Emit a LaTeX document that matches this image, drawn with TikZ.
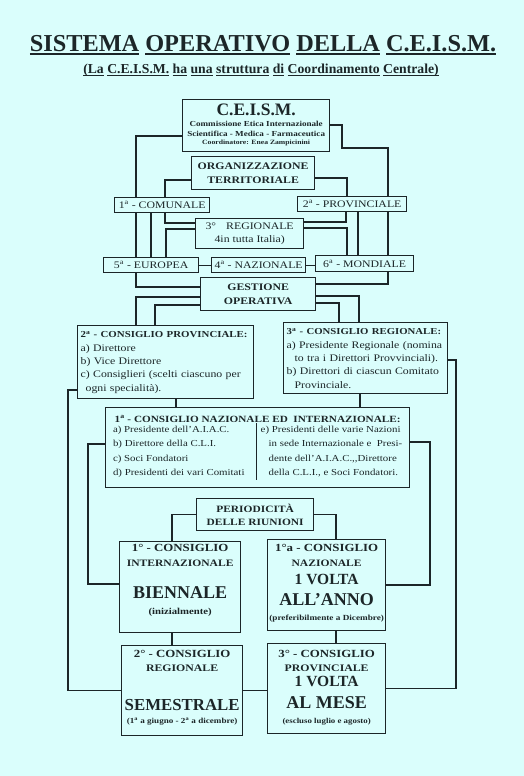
\documentclass[tikz,border=0pt]{standalone}
\usepackage{fontspec}
\setmainfont{Liberation Serif}
\newfontfamily\bxf[FakeStretch=1.18]{Liberation Serif}
\definecolor{bg}{RGB}{218,254,252}
\definecolor{ink}{RGB}{28,38,40}
\newcommand\fs[2]{\fontsize{#1}{#2}\selectfont}
\newcommand\sa{\textsuperscript{a}}
\newcommand\uwa[1]{\leavevmode\setbox0\hbox{#1}\rlap{\color{ink}\rule[-3.5pt]{\wd0}{1.6pt}}\box0\relax}
\newcommand\uwb[1]{\leavevmode\setbox0\hbox{#1}\rlap{\color{ink}\rule[-2.6pt]{\wd0}{1.1pt}}\box0\relax}
% strut line: height above baseline #1, depth #2
\newcommand\lnx[2]{\rule[-#2pt]{0pt}{\dimexpr#1pt+#2pt\relax}}
\newcommand\tight{\baselineskip=0pt\lineskip=0pt\lineskiplimit=0pt}
\begin{document}
\begin{tikzpicture}[x=1pt,y=-1pt,
  box/.style={draw=ink, line width=1.3pt, anchor=north west, inner sep=0pt, align=center, text=ink},
  lbox/.style={box, align=left, inner xsep=3pt},
  small/.style={font=\bxf\fs{10}{12}},
  conn/.style={draw=ink, line width=1.1pt},
]
\fill[bg] (0,0) rectangle (524,776);
\useasboundingbox (0,0) rectangle (524,776);

% titles
\node[text=ink, font=\fs{24.3}{28}\bfseries] (title) at (263,45) {\uwa{SISTEMA} \uwa{OPERATIVO} \uwa{DELLA} \uwa{C.E.I.S.M.}};
\node[text=ink, font=\fs{13.7}{16}\bfseries] (subtitle) at (261,70) {\uwb{(La} \uwb{C.E.I.S.M.} \uwb{ha} \uwb{una} \uwb{struttura} \uwb{di} \uwb{Coordinamento} \uwb{Centrale)}};

% boxes top
\node[box, minimum width=147pt, minimum height=52pt, font=\tight] (ceism) at (182,99)
 {\lnx{15.5}{2}{\fs{17.5}{0}\bfseries C.E.I.S.M.}\\
  \lnx{9.5}{1.5}{\bxf\fs{7.7}{0}\bfseries Commissione Etica Internazionale}\\
  \lnx{8}{1.5}{\bxf\fs{7.7}{0}\bfseries Scientifica - Medica - Farmaceutica}\\
  \lnx{6.5}{7.5}{\bxf\fs{6.5}{0}\bfseries Coordinatore: Enea Zampicinini}};
\node[box, minimum width=123pt, minimum height=33pt, font=\bxf\fs{10}{14}\bfseries] (org) at (191,156)
 {ORGANIZZAZIONE\\TERRITORIALE};
\node[box, small, minimum width=95pt, minimum height=15pt] (comunale) at (114,197) {1\sa{} - COMUNALE};
\node[box, small, minimum width=109pt, minimum height=15pt] (provinciale) at (297,196) {2\sa{} - PROVINCIALE};
\node[box, minimum width=108pt, minimum height=30pt, font=\bxf\fs{10}{13}] (regionale) at (195,218)
 {3°\quad REGIONALE\\4in tutta Italia)};
\node[box, small, minimum width=95pt, minimum height=15pt] (europea) at (103,257) {5\sa{} - EUROPEA};
\node[box, small, minimum width=94pt, minimum height=15pt] (nazionale) at (211,257) {4\sa{} - NAZIONALE};
\node[box, small, minimum width=98pt, minimum height=16pt] (mondiale) at (315,255) {6\sa{} - MONDIALE};
\node[box, minimum width=115pt, minimum height=33pt, font=\bxf\fs{10}{14}\bfseries] (gestione) at (200,277)
 {GESTIONE\\OPERATIVA};

% consigli
\node[lbox, minimum width=176pt, minimum height=73pt, text width=170pt, font=\bxf\fs{10}{13.3}] (cprov) at (77,325)
 {{\fs{9.2}{13.3}\bfseries 2\sa{} - CONSIGLIO PROVINCIALE:}\\
  a) Direttore\\
  b) Vice Direttore\\
  c) Consiglieri (scelti ciascuno per\\
  \hspace*{5pt}ogni specialità).};
\node[lbox, minimum width=164pt, minimum height=71pt, text width=158pt, font=\bxf\fs{10}{13.3}] (creg) at (283,322)
 {{\fs{9.1}{13.3}\bfseries 3\sa{} - CONSIGLIO REGIONALE:}\\
  a) Presidente Regionale (nomina\\
  \hspace*{8pt}to tra i Direttori Provvinciali).\\
  b) Direttori di ciascun Comitato\\
  \hspace*{8pt}Provinciale.};
\node[box, minimum width=304pt, minimum height=80pt, font=\bxf] (cnaz) at (105,407)
 {{\fs{9.5}{13}\bfseries 1\sa{} - CONSIGLIO NAZIONALE ED\ \ INTERNAZIONALE:}\\[-1pt]
  \fs{9.2}{14.3}\begin{tabular}{@{}l@{\hspace{12pt}}|@{\hspace{4pt}}l@{}}
  a) Presidente dell’A.I.A.C. & e) Presidenti delle varie Nazioni\\
  b) Direttore della C.L.I. & \hspace*{8pt}in sede Internazionale e\ \ Presi-\\
  c) Soci Fondatori & \hspace*{8pt}dente dell’A.I.A.C.,,Direttore\\
  d) Presidenti dei vari Comitati & \hspace*{8pt}della C.L.I., e Soci Fondatori.
  \end{tabular}};

% periodicita
\node[box, minimum width=117pt, minimum height=32pt, font=\bxf\fs{9.7}{13}\bfseries] (period) at (196,498)
 {PERIODICITÀ\\DELLE RIUNIONI};
\node[box, minimum width=121pt, minimum height=91pt, font=\tight\bfseries] (bint) at (119,541)
 {\lnx{10}{3}{\bxf\fs{10.9}{0}1° - CONSIGLIO}\\
  \lnx{12}{3}{\bxf\fs{9.8}{0}INTERNAZIONALE}\\
  \lnx{29}{4}{\fs{18}{0}BIENNALE}\\
  \lnx{12}{18}{\bxf\fs{9.1}{0}(inizialmente)}};
\node[box, minimum width=118pt, minimum height=91pt, font=\tight\bfseries] (anaz) at (267,539)
 {\lnx{12}{3}{\bxf\fs{10.9}{0}1°a - CONSIGLIO}\\
  \lnx{12}{3}{\bxf\fs{9.8}{0}NAZIONALE}\\
  \lnx{15}{2}{\fs{15.5}{0}1 VOLTA}\\
  \lnx{19}{2}{\fs{18}{0}ALL’ANNO}\\
  \lnx{13}{10}{\bxf\fs{7.8}{0}(preferibilmente a Dicembre)}};
\node[box, minimum width=121pt, minimum height=90pt, font=\tight\bfseries] (sreg) at (121,645)
 {\lnx{12}{3}{\bxf\fs{10.9}{0}2° - CONSIGLIO}\\
  \lnx{11}{3}{\bxf\fs{10}{0}REGIONALE}\\
  \lnx{36}{3}{\fs{16.8}{0}SEMESTRALE}\\
  \lnx{10}{12}{\bxf\fs{7.7}{0}(1\sa{} a giugno - 2\sa{} a dicembre)}};
\node[box, minimum width=118pt, minimum height=90pt, font=\tight\bfseries] (tprov) at (267,643)
 {\lnx{14}{3}{\bxf\fs{10.9}{0}3° - CONSIGLIO}\\
  \lnx{11}{3}{\bxf\fs{10}{0}PROVINCIALE}\\
  \lnx{12}{2}{\fs{15.5}{0}1 VOLTA}\\
  \lnx{20}{2}{\fs{18}{0}AL MESE}\\
  \lnx{13}{10}{\bxf\fs{7.5}{0}(escluso luglio e agosto)}};

% connectors upper left
\draw[conn] (ceism.west |- 0,136) -| (136,0 |- comunale.north);
\draw[conn] (comunale.south -| 136,0) -- (europea.north -| 136,0);
\draw[conn] (europea.south -| 136,0) |- (gestione.west |- 0,287);
\draw[conn] (comunale.south -| 151,0) -- (europea.north -| 151,0);
\draw[conn] (org.west |- 0,180) -| (165,0 |- comunale.north);
\draw[conn] (comunale.south -| 165,0) |- (regionale.west |- 0,223);
\draw[conn] (regionale.west |- 0,229) -| (166,0 |- europea.north);
\draw[conn] (europea.east) -- (nazionale.west);
\draw[conn] (nazionale.east) -- (mondiale.west |- nazionale.east);
% connectors upper right
\draw[conn] (ceism.east |- 0,125) -| (342,148) -| (388,0 |- provinciale.north);
\draw[conn] (provinciale.south -| 388,0) -- (mondiale.north -| 388,0);
\draw[conn] (mondiale.south -| 388,0) |- (gestione.east |- 0,284);
\draw[conn] (org.east |- 0,178) -| (347,0 |- provinciale.north);
\draw[conn] (provinciale.south -| 346,0) |- (regionale.east |- 0,222);
\draw[conn] (regionale.east |- 0,228) -| (347,0 |- mondiale.north);
\draw[conn] (provinciale.south -| 358,0) -- (mondiale.north -| 358,0);
% gestione to consigli
\draw[conn] (gestione.west |- 0,297) -| (136,0 |- cprov.north);
\draw[conn] (gestione.west |- 0,305) -| (155,0 |- cprov.north);
\draw[conn] (gestione.east |- 0,296) -| (359,0 |- creg.north);
\draw[conn] (gestione.east |- 0,303) -| (339,0 |- creg.north);
% consigli to nazionale
\draw[conn] (cprov.south -| 176,0) -- (cnaz.north -| 176,0);
\draw[conn] (creg.south -| 360,0) -- (cnaz.north -| 360,0);
% outer lines
\draw[conn] (cprov.west |- 0,390) -| (sreg.west -| 68,0) -- (sreg.west);
\draw[conn] (creg.east |- 0,360) -| (tprov.east -| 456,0) -- (tprov.east);
\draw[conn] (cnaz.west |- 0,444) -| (88,584) -- (bint.west |- 0,584);
\draw[conn] (cnaz.east |- 0,442) -| (430,585) -- (anaz.east |- 0,585);
% periodicita
\draw[conn] (period.west) -| (172,0 |- bint.north);
\draw[conn] (period.east) -| (336,0 |- anaz.north);
\draw[conn] (bint.south -| 172,0) -- (sreg.north -| 172,0);
\draw[conn] (anaz.south -| 336,0) -- (tprov.north -| 336,0);
\draw[conn] (sreg.east) -- (tprov.west |- sreg.east);
\end{tikzpicture}
\end{document}
